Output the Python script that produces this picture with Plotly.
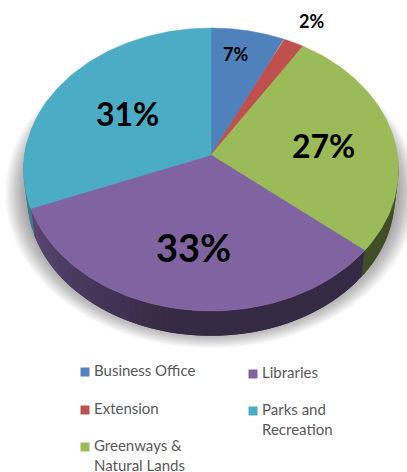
import numpy as np
import plotly.graph_objects as go

# data
categories = ["Business Office", "Extension", "Greenways & Natural Lands", "Libraries", "Parks and Recreation"]
shares = [7, 2, 27, 33, 31]
pct_labels = ["7%", "2%", "27%", "33%", "31%"]

# styles
colors = ["#4f81bd", "#c0504d", "#9bbb59", "#8064a2", "#4bacc6"]
legend_text = ["Business Office", "Extension", "Greenways &<br>Natural Lands", "Libraries", "Parks and<br>Recreation"]
legend_x = [85, 85, 85, 253, 253]
legend_y = [372, 410, 447, 374, 411]
label_x = [235, 311, 323, 193, 127]
label_y = [54, 21, 145, 247, 113]
label_size = [18, 18, 32, 38, 32]

CX, CY = 211, 155
A, B, K = 186.5, 140, 0.1025
DEPTH = 28
FONT = "Lato, 'Open Sans', sans-serif"


def rim(theta_deg, scale=1.0, shift=0.0):
    # perspective circle, theta clockwise from top
    t = np.radians(theta_deg)
    d = 1 + K * np.cos(t)
    x = CX + scale * A * np.sin(t) / d
    y = CY + shift - scale * B * np.cos(t) / d
    return x, y


def shaded(hex_color, f):
    r, g, b = [int(hex_color[i:i + 2], 16) for i in (1, 3, 5)]
    return f"rgb({int(r * f)},{int(g * f)},{int(b * f)})"


def wall_shade(theta):
    if theta < 190:
        return 0.42
    return 0.42 + 0.3 * (theta - 190) / 60


fig = go.Figure()

# soft shadow under the pie
for s in np.linspace(1.10, 0.97, 24):
    t = np.linspace(0, 360, 181)
    x, y = rim(t, s, 22)
    fig.add_trace(go.Scatter(x=x, y=y, mode="lines", fill="toself", line_width=0,
                             fillcolor="rgba(0,0,0,0.019)", hoverinfo="skip"))

edges = np.cumsum([0] + shares) * 3.6

# side wall, strips overlap so no seams show
for i in range(len(shares)):
    start = max(edges[i], 92)
    end = min(edges[i + 1], 275)
    if end <= start:
        continue
    steps = np.arange(start, end, 2.0)
    for a in steps:
        t = np.linspace(a, min(a + 4, end), 5)
        x1, y1 = rim(t)
        x2, y2 = rim(t[::-1], 0.98, DEPTH)
        col = shaded(colors[i], wall_shade(a + 1))
        fig.add_trace(go.Scatter(x=np.r_[x1, x2], y=np.r_[y1, y2], mode="lines", fill="toself",
                                 line_width=0, fillcolor=col, hoverinfo="skip"))

# top face
for i, name in enumerate(categories):
    t = np.linspace(edges[i], edges[i + 1], 90)
    x, y = rim(t)
    fig.add_trace(go.Scatter(x=np.r_[CX, x, CX], y=np.r_[CY, y, CY], mode="lines", fill="toself",
                             line=dict(color=colors[i], width=0.5), fillcolor=colors[i],
                             name=name, hoverinfo="name"))

# legend keys
fig.add_trace(go.Scatter(x=legend_x, y=legend_y, mode="markers",
                         marker=dict(symbol="square", size=9, color=colors), hoverinfo="skip"))

annotations = []
for i in range(len(pct_labels)):
    annotations.append(dict(x=label_x[i], y=label_y[i], text=f"<b>{pct_labels[i]}</b>", showarrow=False,
                            font=dict(family=FONT, size=label_size[i], color="#000000")))
for i in range(len(legend_text)):
    annotations.append(dict(x=legend_x[i] + 7, y=legend_y[i] - 13, text=legend_text[i], showarrow=False,
                            xanchor="left", yanchor="top", align="left",
                            font=dict(family=FONT, size=15, color="#595959")))

fig.update_layout(
    width=407, height=472, margin=dict(l=0, r=0, t=0, b=0), showlegend=False,
    paper_bgcolor="white", plot_bgcolor="white", annotations=annotations,
    xaxis=dict(range=[0, 407], visible=False, fixedrange=True),
    yaxis=dict(range=[472, 0], visible=False, fixedrange=True),
)

fig.write_html("out.html", config={"displayModeBar": False}, post_script="document.body.style.margin='0';")
